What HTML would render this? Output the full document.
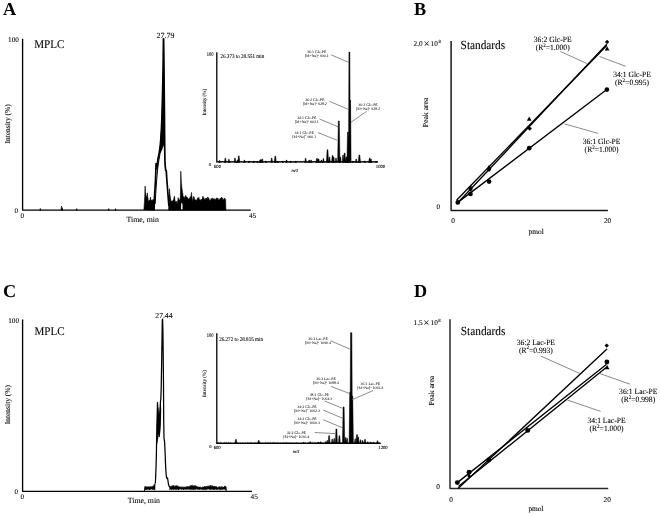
<!DOCTYPE html>
<html><head><meta charset="utf-8"><style>
html,body{margin:0;padding:0;background:#fff;}
body{width:660px;height:516px;overflow:hidden;}
svg{display:block;font-family:"Liberation Serif", serif;will-change:transform;text-rendering:geometricPrecision;}
</style></head><body>
<svg width="660" height="516" viewBox="0 0 660 516">
<rect width="660" height="516" fill="#fff"/>
<path d="M39.8,210.2 L40.3,208.4 L40.8,210.2 Z M61.0,210.2 L61.5,206.0 L62.0,210.2 Z M61.8,210.2 L62.3,207.7 L62.8,210.2 Z M76.3,210.2 L76.8,208.6 L77.3,210.2 Z M108.3,210.2 L108.8,208.6 L109.3,210.2 Z M115.1,210.2 L115.6,208.6 L116.1,210.2 Z" fill="#000" stroke="#000" stroke-width="0.6"/>
<path d="M143.90,209.85 L144.40,202.30 L144.75,195.94 L145.10,185.94 L145.45,191.76 L145.80,194.73 L146.15,196.59 L146.50,198.01 L146.90,195.56 L147.30,192.87 L147.65,196.11 L148.00,198.18 L148.33,200.51 L148.67,201.32 L149.00,200.75 L149.33,201.02 L149.67,200.09 L150.00,199.90 L150.50,197.15 L150.85,199.13 L151.20,200.95 L151.52,200.20 L151.85,200.97 L152.18,200.84 L152.50,199.79 L152.83,200.36 L153.17,199.45 L153.50,200.13 L153.85,199.54 L154.20,199.00 L154.20,210.20 Z" fill="#000" stroke="#000" stroke-width="0.6" stroke-linejoin="round"/>
<path d="M154.00,210.20 L154.20,203.00 L154.60,195.00 L155.10,187.00 L155.50,180.00 L155.80,172.00 L156.10,163.50 L156.60,168.50 L157.20,166.00 L157.80,160.00 L158.60,156.00 L159.40,152.00 L160.20,146.00 L160.90,138.00 L161.50,128.00 L162.00,115.00 L162.40,100.00 L162.85,80.00 L163.20,60.00 L163.45,38.80 L163.60,38.80 L163.85,55.00 L164.10,80.00 L164.40,110.00 L164.60,135.00 L164.75,150.00 L164.90,160.00 L165.20,166.00 L165.70,170.50 L166.30,171.00 L166.60,176.00 L167.00,182.00 L167.50,188.00 L168.00,195.00 L168.50,201.00 L168.90,206.00" fill="none" stroke="#000" stroke-width="1.7" stroke-linejoin="round"/>
<path d="M155.20,204.00 L155.60,196.00 L156.10,188.00 L156.60,181.00 L157.20,174.00 L158.00,166.00 L158.90,160.00 L159.80,155.00 L160.60,148.00" fill="none" stroke="#000" stroke-width="1.0" stroke-linejoin="round"/>
<path d="M163.20,60.00 L162.90,75.00 L162.50,90.00 L162.20,100.00 L161.70,112.00 L161.10,128.00 L160.40,140.00 L159.60,149.00 L159.30,153.00 L160.60,153.00 L162.50,149.00 L163.30,145.00 L164.00,148.00 L164.60,146.00 L164.70,130.00 L164.50,100.00 L164.20,80.00 L163.90,60.00 Z" fill="#000"/>
<path d="M168.60,210.20 L168.80,200.16 L169.15,195.52 L169.50,188.74 L169.85,193.88 L170.20,196.13 L170.60,199.12 L170.93,200.66 L171.27,201.03 L171.60,200.86 L171.90,201.50 L172.20,201.17 L172.50,200.91 L172.83,200.81 L173.17,200.26 L173.50,199.40 L173.83,198.39 L174.17,197.15 L174.50,196.05 L174.90,199.90 L175.30,201.46 L175.70,201.79 L176.10,202.63 L176.50,201.24 L176.85,203.17 L177.20,203.51 L177.53,201.74 L177.87,199.98 L178.20,197.58 L178.52,199.82 L178.85,199.53 L179.18,200.17 L179.50,200.25 L179.90,199.25 L180.30,198.00 L180.50,190.00 L180.80,171.20 L181.30,182.00 L182.00,189.00 L182.50,192.00 L183.10,196.00 L183.10,196.39 L183.45,197.20 L183.80,196.66 L184.15,197.48 L184.50,197.68 L184.80,198.31 L185.10,196.55 L185.40,197.46 L185.70,195.32 L186.00,196.40 L186.33,197.10 L186.67,197.12 L187.00,196.84 L187.33,197.59 L187.67,197.84 L188.00,199.34 L188.30,199.04 L188.60,198.92 L188.90,199.27 L189.20,198.23 L189.50,198.12 L189.83,199.56 L190.17,196.93 L190.50,196.50 L190.83,196.36 L191.17,195.21 L191.50,192.36 L191.83,196.19 L192.17,197.83 L192.50,200.77 L192.90,200.24 L193.30,198.59 L193.70,196.36 L194.02,198.01 L194.35,197.62 L194.68,199.86 L195.00,199.92 L195.40,199.91 L195.80,199.69 L196.20,200.46 L196.52,200.75 L196.85,199.72 L197.18,200.07 L197.50,198.03 L197.85,198.21 L198.20,197.74 L198.55,198.19 L198.90,197.43 L199.27,199.72 L199.63,199.48 L200.00,200.03 L200.30,200.79 L200.60,199.95 L200.90,199.49 L201.20,200.00 L201.50,199.56 L201.80,200.00 L202.10,198.80 L202.40,198.43 L202.70,197.20 L203.00,196.21 L203.33,198.68 L203.67,197.46 L204.00,198.13 L204.33,199.67 L204.67,198.99 L205.00,199.68 L205.30,199.78 L205.60,198.40 L205.90,199.34 L206.20,198.00 L206.50,198.23 L206.80,198.34 L207.10,198.85 L207.40,198.88 L207.70,197.00 L208.00,197.00 L208.33,198.56 L208.67,198.23 L209.00,198.25 L209.32,200.61 L209.65,200.49 L209.98,200.50 L210.30,199.97 L210.70,199.80 L211.10,198.54 L211.50,198.69 L211.80,199.37 L212.10,199.56 L212.40,199.11 L212.70,197.85 L213.00,200.27 L213.30,198.76 L213.60,198.88 L213.90,198.69 L214.27,198.78 L214.63,198.92 L215.00,199.96 L215.30,200.28 L215.60,199.19 L215.90,199.12 L216.20,198.33 L216.50,197.83 L216.80,199.74 L217.10,198.57 L217.40,199.75 L217.70,198.16 L218.00,197.95 L218.30,199.90 L218.60,199.67 L218.90,200.16 L219.20,199.51 L219.50,199.64 L219.85,200.02 L220.20,198.12 L220.55,199.33 L220.90,198.04 L221.25,198.21 L221.60,197.06 L221.95,198.57 L222.30,197.77 L222.65,199.48 L223.00,199.41 L223.30,199.16 L223.60,199.25 L223.90,199.90 L224.20,199.17 L224.50,197.93 L224.87,199.15 L225.23,198.85 L225.60,199.39 L225.90,210.20 L225.90,210.20 Z" fill="#000" stroke="#000" stroke-width="0.6" stroke-linejoin="round"/>
<path d="M181.0,209.6 L181.2,203 L182.4,203.5 L182.6,209.6 Z" fill="#fff"/>
<text x="3.0" y="15.2" font-size="18.2" text-anchor="start" font-weight="bold" fill="#000" >A</text>
<path d="M22.6,38.8 L22.6,210.1 L250.7,210.1" fill="none" stroke="#000" stroke-width="1.35" stroke-linejoin="round"/>
<text x="18.9" y="42.2" font-size="7.2" text-anchor="end" fill="#000" stroke="#000" stroke-width="0.08" >100</text>
<text x="18.2" y="212.7" font-size="7.2" text-anchor="end" fill="#000" stroke="#000" stroke-width="0.08" >0</text>
<text x="22.3" y="217.7" font-size="7.2" text-anchor="middle" fill="#000" stroke="#000" stroke-width="0.08" >0</text>
<text x="252.6" y="218.1" font-size="7.2" text-anchor="middle" fill="#000" stroke="#000" stroke-width="0.08" >45</text>
<text x="142.7" y="222.3" font-size="7.8" text-anchor="middle" fill="#000" stroke="#000" stroke-width="0.08" >Time, min</text>
<text transform="translate(34.2,48.0) scale(1,1.07)" x="0" y="0" font-size="11.1" text-anchor="start" fill="#000" stroke="#000" stroke-width="0.08" >MPLC</text>
<text x="165.5" y="37.8" font-size="7.9" text-anchor="middle" fill="#000" stroke="#000" stroke-width="0.08" >27.79</text>
<text transform="translate(10.3,123.9) scale(1.0,1) rotate(-90)" font-size="7.5" text-anchor="middle" fill="#000" stroke="#000" stroke-width="0.08">Intensity (%)</text>
<path d="M216.8,52.2 L216.8,161.9 L378,161.9" fill="none" stroke="#000" stroke-width="1.3" stroke-linejoin="round"/>
<text transform="translate(213.4,55.8) scale(1,1.2)" x="0" y="0" font-size="4.5" text-anchor="end" fill="#000" stroke="#000" stroke-width="0.08" >100</text>
<text transform="translate(220.5,57.8) scale(1,1.12)" x="0" y="0" font-size="5.1" text-anchor="start" fill="#000" stroke="#000" stroke-width="0.08" >26.373 to 28.551 min</text>
<text x="211.0" y="166.0" font-size="4.5" text-anchor="end" fill="#000" stroke="#000" stroke-width="0.08" >0</text>
<text x="217.5" y="168.0" font-size="4.7" text-anchor="middle" fill="#000" stroke="#000" stroke-width="0.08" >600</text>
<text x="380.5" y="167.7" font-size="4.7" text-anchor="middle" fill="#000" stroke="#000" stroke-width="0.08" >1000</text>
<text x="294.7" y="172.0" font-size="4.7" text-anchor="middle" fill="#000" stroke="#000" stroke-width="0.08" font-style="italic">m/z</text>
<text transform="translate(206.0,102.1) scale(1.0,1) rotate(-90)" font-size="5.1" text-anchor="middle" fill="#000" stroke="#000" stroke-width="0.08">Intensity (%)</text>
<path d="M218.70,162.5 L219.25,160.60 L219.75,160.60 L220.30,162.5 Z M224.50,162.5 L225.05,158.00 L225.55,158.00 L226.10,162.5 Z M228.10,162.5 L228.65,159.30 L229.15,159.30 L229.70,162.5 Z M234.20,162.5 L234.75,158.00 L235.25,158.00 L235.80,162.5 Z M236.70,162.5 L237.25,160.00 L237.75,160.00 L238.30,162.5 Z M237.80,162.5 L238.45,155.90 L239.15,155.90 L239.80,162.5 Z M243.60,162.5 L244.15,160.00 L244.65,160.00 L245.20,162.5 Z M248.30,162.5 L248.85,161.00 L249.35,161.00 L249.90,162.5 Z M252.90,162.5 L253.45,161.00 L253.95,161.00 L254.50,162.5 Z M256.70,162.5 L257.25,161.50 L257.75,161.50 L258.30,162.5 Z M259.25,162.5 L259.90,159.80 L261.10,159.80 L261.75,162.5 Z M261.20,162.5 L261.80,159.10 L262.60,159.10 L263.20,162.5 Z M265.10,162.5 L265.65,161.00 L266.15,161.00 L266.70,162.5 Z M270.90,162.5 L271.45,158.00 L271.95,158.00 L272.50,162.5 Z M274.30,162.5 L274.95,156.10 L275.65,156.10 L276.30,162.5 Z M277.30,162.5 L277.85,161.00 L278.35,161.00 L278.90,162.5 Z M281.90,162.5 L282.45,161.00 L282.95,161.00 L283.50,162.5 Z M285.70,162.5 L286.25,160.00 L286.75,160.00 L287.30,162.5 Z M289.60,162.5 L290.15,161.00 L290.65,161.00 L291.20,162.5 Z M294.80,162.5 L295.35,161.00 L295.85,161.00 L296.40,162.5 Z M304.80,162.5 L305.35,158.20 L305.85,158.20 L306.40,162.5 Z M308.40,162.5 L308.95,160.00 L309.45,160.00 L310.00,162.5 Z M310.30,162.5 L310.85,160.00 L311.35,160.00 L311.90,162.5 Z M315.80,162.5 L316.50,158.50 L317.50,158.50 L318.20,162.5 Z M317.50,162.5 L318.10,159.00 L318.90,159.00 L319.50,162.5 Z M320.60,162.5 L321.15,160.00 L321.65,160.00 L322.20,162.5 Z M322.60,162.5 L323.15,158.50 L323.65,158.50 L324.20,162.5 Z M326.40,162.5 L327.10,149.80 L327.90,149.80 L328.60,162.5 Z M328.70,162.5 L329.25,157.00 L329.75,157.00 L330.30,162.5 Z M331.60,162.5 L332.20,155.60 L333.00,155.60 L333.60,162.5 Z M332.90,162.5 L333.45,157.00 L333.95,157.00 L334.50,162.5 Z M335.20,162.5 L335.75,158.00 L336.25,158.00 L336.80,162.5 Z M337.65,162.5 L338.30,121.00 L339.30,121.00 L339.95,162.5 Z M339.60,162.5 L340.15,157.00 L340.65,157.00 L341.20,162.5 Z M342.20,162.5 L342.75,155.00 L343.25,155.00 L343.80,162.5 Z M343.60,162.5 L344.20,153.00 L345.00,153.00 L345.60,162.5 Z M345.50,162.5 L346.00,157.00 L347.00,157.00 L347.50,162.5 Z M346.90,162.5 L347.50,132.00 L348.30,132.00 L348.90,162.5 Z M348.50,162.5 L348.95,52.00 L349.85,52.00 L350.30,162.5 Z M349.30,162.5 L349.85,100.00 L350.55,100.00 L351.10,162.5 Z M352.20,162.5 L352.75,161.00 L353.25,161.00 L353.80,162.5 Z M355.40,162.5 L355.95,159.00 L356.45,159.00 L357.00,162.5 Z M358.30,162.5 L359.00,155.00 L359.80,155.00 L360.50,162.5 Z M363.80,162.5 L364.35,161.00 L364.85,161.00 L365.40,162.5 Z M368.70,162.5 L369.30,158.20 L370.10,158.20 L370.70,162.5 Z M370.20,162.5 L370.75,159.00 L371.25,159.00 L371.80,162.5 Z M375.40,162.5 L375.95,161.50 L376.45,161.50 L377.00,162.5 Z" fill="#000" stroke="#000" stroke-width="0.5" stroke-linejoin="round"/>
<path d="M216.70,162.08 L217.30,161.61 L217.90,161.31 L218.50,161.38 L219.10,161.77 L219.70,161.58 L220.30,161.42 L220.90,162.21 L221.50,161.57 L222.10,161.30 L222.70,161.44 L223.30,161.47 L223.90,161.77 L224.50,162.10 L225.10,161.43 L225.70,161.93 L226.30,161.42 L226.90,161.23 L227.50,161.86 L228.10,161.86 L228.70,161.26 L229.30,161.50 L229.90,162.11 L230.50,162.16 L231.10,162.13 L231.70,161.30 L232.30,161.41 L232.90,162.14 L233.50,161.39 L234.10,161.22 L234.70,161.58 L235.30,161.91 L235.90,161.70 L236.50,162.16 L237.10,162.28 L237.70,161.23 L238.30,161.59 L238.90,161.72 L239.50,161.27 L240.10,161.82 L240.70,161.34 L241.30,161.39 L241.90,162.07 L242.50,162.02 L243.10,161.98 L243.70,162.04 L244.30,161.65 L244.90,162.01 L245.50,161.84 L246.10,162.16 L246.70,161.30 L247.30,161.91 L247.90,161.80 L248.50,161.66 L249.10,161.31 L249.70,161.84 L250.30,161.29 L250.90,161.75 L251.50,161.71 L252.10,161.72 L252.70,162.28 L253.30,161.82 L253.90,162.10 L254.50,162.30 L255.10,161.42 L255.70,162.11 L256.30,161.78 L256.90,161.50 L257.50,161.69 L258.10,161.94 L258.70,161.73 L259.30,161.69 L259.90,161.44 L260.50,162.18 L261.10,161.68 L261.70,162.03 L262.30,162.00 L262.90,161.45 L263.50,161.74 L264.10,161.68 L264.70,161.46 L265.30,161.30 L265.90,161.81 L266.50,161.63 L267.10,161.74 L267.70,161.74 L268.30,161.54 L268.90,161.80 L269.50,161.71 L270.10,161.77 L270.70,161.26 L271.30,161.53 L271.90,161.34 L272.50,161.26 L273.10,162.01 L273.70,161.68 L274.30,161.26 L274.90,161.38 L275.50,162.15 L276.10,162.17 L276.70,161.81 L277.30,162.22 L277.90,162.04 L278.50,162.22 L279.10,161.56 L279.70,161.44 L280.30,161.31 L280.90,162.13 L281.50,161.51 L282.10,161.57 L282.70,162.14 L283.30,161.33 L283.90,161.24 L284.50,162.06 L285.10,161.25 L285.70,161.86 L286.30,161.76 L286.90,161.21 L287.50,161.38 L288.10,162.12 L288.70,161.83 L289.30,161.73 L289.90,161.93 L290.50,162.08 L291.10,161.95 L291.70,161.51 L292.30,162.28 L292.90,161.69 L293.50,161.82 L294.10,162.28 L294.70,161.94 L295.30,161.61 L295.90,161.74 L296.50,162.23 L297.10,161.22 L297.70,161.43 L298.30,161.23 L298.90,162.18 L299.50,162.01 L300.10,162.26 L300.70,161.44 L301.30,162.00 L301.90,162.16 L302.50,161.84 L303.10,161.30 L303.70,161.40 L304.30,162.02 L304.90,162.14 L305.50,161.29 L306.10,161.67 L306.70,161.53 L307.30,162.20 L307.90,162.24 L308.50,161.54 L309.10,161.83 L309.70,162.22 L310.30,161.27 L310.90,161.60 L311.50,161.42 L312.10,162.21 L312.70,161.36 L313.30,162.23 L313.90,161.35 L314.50,161.80 L315.10,161.93 L315.70,161.69 L316.30,161.28 L316.90,162.01 L317.50,162.16 L318.10,161.72 L318.70,162.04 L319.30,162.18 L319.90,162.12 L320.50,162.24 L321.10,162.08 L321.70,161.96 L322.30,161.96 L322.90,161.46 L323.50,161.98 L324.10,161.75 L324.70,162.10 L325.30,161.92 L325.90,162.28 L326.50,162.02 L327.10,162.28 L327.70,161.49 L328.30,161.69 L328.90,162.09 L329.50,161.78 L330.10,161.27 L330.70,162.18 L331.30,161.40 L331.90,161.82 L332.50,161.76 L333.10,161.38 L333.70,161.87 L334.30,161.74 L334.90,161.54 L335.50,161.22 L336.10,161.92 L336.70,161.38 L337.30,161.52 L337.90,161.60 L338.50,161.85 L339.10,161.92 L339.70,162.24 L340.30,162.16 L340.90,162.22 L341.50,161.49 L342.10,162.02 L342.70,162.12 L343.30,162.21 L343.90,161.37 L344.50,161.34 L345.10,161.56 L345.70,161.99 L346.30,162.03 L346.90,161.98 L347.50,161.79 L348.10,162.13 L348.70,161.81 L349.30,162.01 L349.90,161.24 L350.50,161.23 L351.10,161.70 L351.70,162.03 L352.30,161.24 L352.90,161.96 L353.50,161.91 L354.10,162.30 L354.70,161.88 L355.30,161.78 L355.90,161.75 L356.50,162.08 L357.10,161.74 L357.70,162.29 L358.30,162.01 L358.90,162.20 L359.50,161.86 L360.10,162.25 L360.70,162.28 L361.30,161.97 L361.90,162.04 L362.50,161.66 L363.10,161.72 L363.70,161.47 L364.30,161.58 L364.90,161.51 L365.50,161.33 L366.10,161.87 L366.70,161.94 L367.30,161.22 L367.90,162.14 L368.50,161.50 L369.10,161.59 L369.70,162.25 L370.30,161.38 L370.90,161.32 L371.50,161.61 L372.10,161.49 L372.70,161.41 L373.30,162.15 L373.90,161.72 L374.50,161.75 L375.10,161.38 L375.70,161.41 L376.30,161.39 L376.90,161.66 L377.50,161.32" fill="none" stroke="#000" stroke-width="0.6"/>
<line x1="331.2" y1="54.8" x2="348.9" y2="62.5" stroke="#6e6e6e" stroke-width="0.8"/>
<line x1="329.7" y1="101.4" x2="348.3" y2="109.4" stroke="#6e6e6e" stroke-width="0.8"/>
<line x1="366.5" y1="111.4" x2="351" y2="122.3" stroke="#6e6e6e" stroke-width="0.8"/>
<line x1="319.5" y1="119" x2="338.2" y2="126.8" stroke="#6e6e6e" stroke-width="0.8"/>
<line x1="318" y1="132.6" x2="337" y2="140.2" stroke="#6e6e6e" stroke-width="0.8"/>
<text x="316.7" y="52.9" font-size="3.9" text-anchor="middle" fill="#000" stroke="#000" stroke-width="0.02" >36:1 Glc-PE</text>
<text x="316.7" y="57.0" font-size="3.9" text-anchor="middle" fill="#000" stroke="#000" stroke-width="0.02" >[M+Na]<tspan font-size="2.6" dy="-1.2">+</tspan><tspan dy="1.2"> 930.1</tspan></text>
<text x="314.8" y="101.2" font-size="3.9" text-anchor="middle" fill="#000" stroke="#000" stroke-width="0.02" >36:2 Glc-PE</text>
<text x="314.8" y="105.3" font-size="3.9" text-anchor="middle" fill="#000" stroke="#000" stroke-width="0.02" >[M+Na]<tspan font-size="2.6" dy="-1.2">+</tspan><tspan dy="1.2"> 928.2</tspan></text>
<text x="368.0" y="105.8" font-size="3.9" text-anchor="middle" fill="#000" stroke="#000" stroke-width="0.02" >36:2 Glc-PE</text>
<text x="368.0" y="109.9" font-size="3.9" text-anchor="middle" fill="#000" stroke="#000" stroke-width="0.02" >[M+Na]<tspan font-size="2.6" dy="-1.2">+</tspan><tspan dy="1.2"> 928.2</tspan></text>
<text x="306.8" y="119.1" font-size="3.9" text-anchor="middle" fill="#000" stroke="#000" stroke-width="0.02" >34:1 Glc-PE</text>
<text x="306.8" y="123.2" font-size="3.9" text-anchor="middle" fill="#000" stroke="#000" stroke-width="0.02" >[M+Na]<tspan font-size="2.6" dy="-1.2">+</tspan><tspan dy="1.2"> 902.1</tspan></text>
<text x="304.2" y="133.5" font-size="3.9" text-anchor="middle" fill="#000" stroke="#000" stroke-width="0.02" >34:1 Glc-PE</text>
<text x="304.2" y="137.6" font-size="3.9" text-anchor="middle" fill="#000" stroke="#000" stroke-width="0.02" >[M+Na]<tspan font-size="2.6" dy="-1.2">+</tspan><tspan dy="1.2"> 900.1</tspan></text>
<path d="M144.60,486.76 L144.95,486.80 L145.30,486.07 L145.65,486.65 L146.00,486.60 L146.35,487.26 L146.70,486.52 L147.05,487.46 L147.40,486.53 L147.75,487.30 L148.10,486.83 L148.45,486.62 L148.80,486.82 L149.15,487.40 L149.50,486.52 L149.85,487.09 L150.20,486.87 L150.55,487.28 L150.90,486.09 L151.25,487.40 L151.60,486.62 L151.95,486.60 L152.30,486.48 L152.65,486.74 L153.00,485.65 L153.35,485.86 L153.70,485.50 L154.05,485.83 L154.40,483.76 L154.75,485.01 L155.10,483.68 L155.10,489.32 L154.75,490.16 L154.40,489.55 L154.05,490.12 L153.70,489.24 L153.35,489.14 L153.00,489.56 L152.65,489.35 L152.30,489.83 L151.95,489.32 L151.60,489.01 L151.25,489.37 L150.90,489.30 L150.55,489.09 L150.20,489.74 L149.85,489.82 L149.50,489.46 L149.15,490.17 L148.80,489.25 L148.45,489.32 L148.10,489.30 L147.75,489.08 L147.40,489.64 L147.05,489.90 L146.70,489.00 L146.35,489.82 L146.00,489.75 L145.65,490.00 L145.30,489.43 L144.95,489.04 L144.60,489.83 Z" fill="#000" stroke="#000" stroke-width="0.4"/>
<path d="M144.3,491.4 L144.6,489.6 L145.2,487.2" fill="none" stroke="#000" stroke-width="0.9"/>
<path d="M155.30,483.50 L155.60,478.00 L156.00,468.00 L156.30,458.00 L156.50,448.00 L156.60,440.00 L156.90,425.00 L157.30,410.00 L157.50,402.50 L157.90,409.00 L158.30,420.00 L158.80,432.00 L159.20,436.50 L159.60,428.00 L160.00,412.00 L160.50,401.00 L160.80,399.50 L161.20,388.00 L161.60,365.00 L162.00,340.00 L162.30,320.00 L162.60,319.20 L162.90,330.00 L163.20,355.00 L163.50,385.00 L163.70,420.00 L164.00,438.00 L164.60,442.00 L164.90,448.00 L165.30,458.00 L165.70,468.00 L166.10,474.00 L166.50,477.50 L167.00,478.50 L167.50,477.80 L168.00,481.00 L168.50,484.50 L169.20,486.30 L170.20,487.00" fill="none" stroke="#000" stroke-width="1.25" stroke-linejoin="round"/>
<path d="M156.9,425 L157.5,404.5 L158.3,408 L159.0,415 L159.6,410 L160.5,401 L160.8,399.5 L161.2,410 L160.8,425 L160.2,433 L159.5,437 L158.8,433 L158.0,440 L157.2,445 Z" fill="#000"/>
<path d="M169.60,486.16 L169.95,486.70 L170.30,485.93 L170.65,487.42 L171.00,486.64 L171.35,487.20 L171.70,485.76 L172.05,486.60 L172.40,485.34 L172.75,486.44 L173.10,485.41 L173.45,486.19 L173.80,485.16 L174.15,486.74 L174.50,486.28 L174.85,486.79 L175.20,485.57 L175.55,486.91 L175.90,485.58 L176.25,486.11 L176.60,485.32 L176.95,486.19 L177.30,485.59 L177.65,486.56 L178.00,485.87 L178.35,487.13 L178.70,486.33 L179.05,487.33 L179.40,486.58 L179.75,487.24 L180.10,486.77 L180.45,486.86 L180.80,487.13 L181.15,487.21 L181.50,486.46 L181.85,487.91 L182.20,487.01 L182.55,487.51 L182.90,486.47 L183.25,487.15 L183.60,486.92 L183.95,487.99 L184.30,486.86 L184.65,487.14 L185.00,486.70 L185.35,487.14 L185.70,486.92 L186.05,487.66 L186.40,486.62 L186.75,487.12 L187.10,486.06 L187.45,487.68 L187.80,486.48 L188.15,487.41 L188.50,486.04 L188.85,486.72 L189.20,486.76 L189.55,487.13 L189.90,485.46 L190.25,486.43 L190.60,485.44 L190.95,485.73 L191.30,485.64 L191.65,486.33 L192.00,484.67 L192.35,485.76 L192.70,485.69 L193.05,486.49 L193.40,485.68 L193.75,485.80 L194.10,485.44 L194.45,486.56 L194.80,485.38 L195.15,486.64 L195.50,485.46 L195.85,486.62 L196.20,485.93 L196.55,486.84 L196.90,485.96 L197.25,487.41 L197.60,486.84 L197.95,486.70 L198.30,487.08 L198.65,486.93 L199.00,486.63 L199.35,487.19 L199.70,486.96 L200.05,487.07 L200.40,486.64 L200.75,487.68 L201.10,487.28 L201.45,487.51 L201.80,487.52 L202.15,487.89 L202.50,486.57 L202.85,487.25 L203.20,486.87 L203.55,487.10 L203.90,487.01 L204.25,486.92 L204.60,486.33 L204.95,486.80 L205.30,486.01 L205.65,487.55 L206.00,486.72 L206.35,487.44 L206.70,485.88 L207.05,487.08 L207.40,486.34 L207.75,486.50 L208.10,485.59 L208.45,486.27 L208.80,486.46 L209.15,486.97 L209.50,485.62 L209.85,486.73 L210.20,485.18 L210.55,486.17 L210.90,485.34 L211.25,486.78 L211.60,485.63 L211.95,486.66 L212.30,485.21 L212.65,486.91 L213.00,486.19 L213.35,486.33 L213.70,486.57 L214.05,486.36 L214.40,485.89 L214.75,486.19 L215.10,486.79 L215.45,487.44 L215.80,486.07 L216.15,487.60 L216.50,486.41 L216.85,487.12 L217.20,487.22 L217.55,487.68 L217.90,487.19 L218.25,487.54 L218.60,486.64 L218.95,487.81 L219.30,486.53 L219.65,487.22 L220.00,486.34 L220.35,487.30 L220.70,487.39 L221.05,487.19 L221.40,486.34 L221.75,487.64 L222.10,486.43 L222.45,487.43 L222.80,486.96 L223.15,487.36 L223.50,486.95 L223.85,487.11 L224.20,486.67 L224.55,486.59 L224.90,485.79 L225.25,486.83 L225.60,485.95 L225.95,486.61 L225.95,489.08 L225.60,489.99 L225.25,489.19 L224.90,489.86 L224.55,489.09 L224.20,489.04 L223.85,489.25 L223.50,489.15 L223.15,488.95 L222.80,489.82 L222.45,489.61 L222.10,489.30 L221.75,489.34 L221.40,489.40 L221.05,488.90 L220.70,489.99 L220.35,489.98 L220.00,489.46 L219.65,488.88 L219.30,489.70 L218.95,488.89 L218.60,489.23 L218.25,489.19 L217.90,489.73 L217.55,489.69 L217.20,489.02 L216.85,489.39 L216.50,489.10 L216.15,489.94 L215.80,489.37 L215.45,488.83 L215.10,489.56 L214.75,489.71 L214.40,489.13 L214.05,489.66 L213.70,489.54 L213.35,489.13 L213.00,489.88 L212.65,489.11 L212.30,488.88 L211.95,488.85 L211.60,489.77 L211.25,488.84 L210.90,489.24 L210.55,489.90 L210.20,489.37 L209.85,489.32 L209.50,489.79 L209.15,489.05 L208.80,488.95 L208.45,489.22 L208.10,488.80 L207.75,489.20 L207.40,489.25 L207.05,488.84 L206.70,489.92 L206.35,489.20 L206.00,490.00 L205.65,489.86 L205.30,489.27 L204.95,488.86 L204.60,489.97 L204.25,489.27 L203.90,489.94 L203.55,489.30 L203.20,489.02 L202.85,489.94 L202.50,489.71 L202.15,489.08 L201.80,489.17 L201.45,489.05 L201.10,489.69 L200.75,489.04 L200.40,489.30 L200.05,488.84 L199.70,489.91 L199.35,489.11 L199.00,489.61 L198.65,488.83 L198.30,489.65 L197.95,489.10 L197.60,489.37 L197.25,489.57 L196.90,489.35 L196.55,488.81 L196.20,489.07 L195.85,489.50 L195.50,488.88 L195.15,489.64 L194.80,489.10 L194.45,489.16 L194.10,489.90 L193.75,489.74 L193.40,489.46 L193.05,489.72 L192.70,489.67 L192.35,489.62 L192.00,488.99 L191.65,489.10 L191.30,489.83 L190.95,489.91 L190.60,488.80 L190.25,489.37 L189.90,489.65 L189.55,488.83 L189.20,489.82 L188.85,489.34 L188.50,489.10 L188.15,489.06 L187.80,489.56 L187.45,488.95 L187.10,489.13 L186.75,489.21 L186.40,489.43 L186.05,489.30 L185.70,489.86 L185.35,489.11 L185.00,488.91 L184.65,488.91 L184.30,488.97 L183.95,490.00 L183.60,489.06 L183.25,489.89 L182.90,488.99 L182.55,489.27 L182.20,489.16 L181.85,489.11 L181.50,489.69 L181.15,489.21 L180.80,488.95 L180.45,488.86 L180.10,489.57 L179.75,489.34 L179.40,488.86 L179.05,489.46 L178.70,489.90 L178.35,489.77 L178.00,489.95 L177.65,489.03 L177.30,489.12 L176.95,489.92 L176.60,489.80 L176.25,488.86 L175.90,489.31 L175.55,489.51 L175.20,489.27 L174.85,489.15 L174.50,489.66 L174.15,488.94 L173.80,489.70 L173.45,489.81 L173.10,489.21 L172.75,489.16 L172.40,489.39 L172.05,488.83 L171.70,489.88 L171.35,489.64 L171.00,489.41 L170.65,488.96 L170.30,489.43 L169.95,489.50 L169.60,489.93 Z" fill="#000" stroke="#000" stroke-width="0.4"/>
<path d="M226.0,487 L226.3,491.4" fill="none" stroke="#000" stroke-width="0.9"/>
<text x="3.0" y="297.2" font-size="18.2" text-anchor="start" font-weight="bold" fill="#000" >C</text>
<path d="M22.6,319.5 L22.6,491.3 L252,491.3" fill="none" stroke="#000" stroke-width="1.35" stroke-linejoin="round"/>
<text x="19.0" y="322.9" font-size="7.2" text-anchor="end" fill="#000" stroke="#000" stroke-width="0.08" >100</text>
<text x="18.2" y="494.0" font-size="7.2" text-anchor="end" fill="#000" stroke="#000" stroke-width="0.08" >0</text>
<text x="22.3" y="499.4" font-size="7.2" text-anchor="middle" fill="#000" stroke="#000" stroke-width="0.08" >0</text>
<text x="254.2" y="499.1" font-size="7.2" text-anchor="middle" fill="#000" stroke="#000" stroke-width="0.08" >45</text>
<text x="143.9" y="503.3" font-size="7.8" text-anchor="middle" fill="#000" stroke="#000" stroke-width="0.08" >Time, min</text>
<text transform="translate(34.5,334.8) scale(1,1.07)" x="0" y="0" font-size="11.1" text-anchor="start" fill="#000" stroke="#000" stroke-width="0.08" >MPLC</text>
<text x="163.9" y="317.9" font-size="7.6" text-anchor="middle" fill="#000" stroke="#000" stroke-width="0.08" >27.44</text>
<text transform="translate(10.2,404.6) scale(1.0,1) rotate(-90)" font-size="7.5" text-anchor="middle" fill="#000" stroke="#000" stroke-width="0.08">Intensity (%)</text>
<path d="M216.8,333.2 L216.8,443.4 L380.8,443.4" fill="none" stroke="#000" stroke-width="1.3" stroke-linejoin="round"/>
<text transform="translate(213.4,336.9) scale(1,1.2)" x="0" y="0" font-size="4.5" text-anchor="end" fill="#000" stroke="#000" stroke-width="0.08" >100</text>
<text transform="translate(219.2,340.6) scale(1,1.12)" x="0" y="0" font-size="5.1" text-anchor="start" fill="#000" stroke="#000" stroke-width="0.08" >26.272 to 28.815 min</text>
<text x="211.5" y="447.5" font-size="4.5" text-anchor="end" fill="#000" stroke="#000" stroke-width="0.08" >0</text>
<text x="217.2" y="449.2" font-size="4.7" text-anchor="middle" fill="#000" stroke="#000" stroke-width="0.08" >600</text>
<text x="383.0" y="449.4" font-size="4.7" text-anchor="middle" fill="#000" stroke="#000" stroke-width="0.08" >1200</text>
<text x="296.1" y="453.3" font-size="4.7" text-anchor="middle" fill="#000" stroke="#000" stroke-width="0.08" font-style="italic">m/z</text>
<text transform="translate(206.0,383.5) scale(1.0,1) rotate(-90)" font-size="5.1" text-anchor="middle" fill="#000" stroke="#000" stroke-width="0.08">Intensity (%)</text>
<path d="M235.00,443.5 L235.50,439.40 L236.30,439.40 L236.80,443.5 Z M257.80,443.5 L258.30,440.50 L259.10,440.50 L259.60,443.5 Z M309.40,443.5 L309.95,441.70 L310.45,441.70 L311.00,443.5 Z M320.00,443.5 L320.55,441.80 L321.05,441.80 L321.60,443.5 Z M324.60,443.5 L325.15,441.80 L325.65,441.80 L326.20,443.5 Z M328.20,443.5 L328.70,435.70 L329.50,435.70 L330.00,443.5 Z M331.40,443.5 L331.95,439.00 L332.45,439.00 L333.00,443.5 Z M335.40,443.5 L335.95,429.00 L336.85,429.00 L337.40,443.5 Z M338.50,443.5 L339.00,435.70 L339.80,435.70 L340.30,443.5 Z M342.45,443.5 L343.10,406.90 L344.10,406.90 L344.75,443.5 Z M346.30,443.5 L346.85,438.20 L347.35,438.20 L347.90,443.5 Z M349.10,443.5 L349.80,392.00 L350.80,392.00 L351.50,443.5 Z M349.95,443.5 L350.55,332.70 L351.85,332.70 L352.45,443.5 Z M351.00,443.5 L351.70,396.00 L352.70,396.00 L353.40,443.5 Z M356.00,443.5 L356.55,434.70 L357.45,434.70 L358.00,443.5 Z M357.50,443.5 L358.05,437.00 L358.55,437.00 L359.10,443.5 Z M364.10,443.5 L364.60,439.50 L365.40,439.50 L365.90,443.5 Z M370.00,443.5 L370.55,442.00 L371.05,442.00 L371.60,443.5 Z M376.70,443.5 L377.25,440.80 L377.75,440.80 L378.30,443.5 Z M326.40,443.5 L326.95,440.50 L327.45,440.50 L328.00,443.5 Z M333.40,443.5 L333.95,438.50 L334.45,438.50 L335.00,443.5 Z M344.80,443.5 L345.35,437.50 L345.85,437.50 L346.40,443.5 Z M354.40,443.5 L354.95,438.80 L355.45,438.80 L356.00,443.5 Z M359.70,443.5 L360.25,439.80 L360.75,439.80 L361.30,443.5 Z M361.80,443.5 L362.35,440.50 L362.85,440.50 L363.40,443.5 Z M367.00,443.5 L367.55,441.80 L368.05,441.80 L368.60,443.5 Z M372.70,443.5 L373.25,442.20 L373.75,442.20 L374.30,443.5 Z M317.40,443.5 L317.95,442.00 L318.45,442.00 L319.00,443.5 Z M302.70,443.5 L303.25,442.30 L303.75,442.30 L304.30,443.5 Z" fill="#000" stroke="#000" stroke-width="0.5" stroke-linejoin="round"/>
<path d="M217.00,442.41 L217.60,442.58 L218.20,442.21 L218.80,443.19 L219.40,442.78 L220.00,442.40 L220.60,442.38 L221.20,442.29 L221.80,443.26 L222.40,442.98 L223.00,443.17 L223.60,443.09 L224.20,442.23 L224.80,442.66 L225.40,442.28 L226.00,442.89 L226.60,442.35 L227.20,442.81 L227.80,443.01 L228.40,442.44 L229.00,442.26 L229.60,443.18 L230.20,442.64 L230.80,442.62 L231.40,443.06 L232.00,442.89 L232.60,443.14 L233.20,443.08 L233.80,443.02 L234.40,442.64 L235.00,442.58 L235.60,443.08 L236.20,443.29 L236.80,442.94 L237.40,442.55 L238.00,443.10 L238.60,442.96 L239.20,443.08 L239.80,442.43 L240.40,442.70 L241.00,443.23 L241.60,443.19 L242.20,442.87 L242.80,442.69 L243.40,442.60 L244.00,443.20 L244.60,443.12 L245.20,442.54 L245.80,442.85 L246.40,442.99 L247.00,442.96 L247.60,442.25 L248.20,442.96 L248.80,442.68 L249.40,442.91 L250.00,442.84 L250.60,442.35 L251.20,442.20 L251.80,442.90 L252.40,443.08 L253.00,442.50 L253.60,443.08 L254.20,443.29 L254.80,442.31 L255.40,442.83 L256.00,442.40 L256.60,442.85 L257.20,442.33 L257.80,442.79 L258.40,443.12 L259.00,443.28 L259.60,442.69 L260.20,442.60 L260.80,442.30 L261.40,443.20 L262.00,442.62 L262.60,442.89 L263.20,442.75 L263.80,443.14 L264.40,442.99 L265.00,442.73 L265.60,442.28 L266.20,443.18 L266.80,442.76 L267.40,442.41 L268.00,442.24 L268.60,443.08 L269.20,443.16 L269.80,442.26 L270.40,442.23 L271.00,442.77 L271.60,443.24 L272.20,442.28 L272.80,442.87 L273.40,442.31 L274.00,442.62 L274.60,442.39 L275.20,443.12 L275.80,442.44 L276.40,443.06 L277.00,442.86 L277.60,442.37 L278.20,442.39 L278.80,443.10 L279.40,443.06 L280.00,442.86 L280.60,442.73 L281.20,442.88 L281.80,443.16 L282.40,443.03 L283.00,442.50 L283.60,442.31 L284.20,443.25 L284.80,442.68 L285.40,442.47 L286.00,443.26 L286.60,442.38 L287.20,443.17 L287.80,442.64 L288.40,442.69 L289.00,442.61 L289.60,442.96 L290.20,442.84 L290.80,442.66 L291.40,442.83 L292.00,442.58 L292.60,442.81 L293.20,442.82 L293.80,443.27 L294.40,442.62 L295.00,442.76 L295.60,443.04 L296.20,442.46 L296.80,442.44 L297.40,442.80 L298.00,443.10 L298.60,442.78 L299.20,443.18 L299.80,443.16 L300.40,442.83 L301.00,443.20 L301.60,442.81 L302.20,442.74 L302.80,443.26 L303.40,442.60 L304.00,443.21 L304.60,442.49 L305.20,442.44 L305.80,442.74 L306.40,443.24 L307.00,442.75 L307.60,442.88 L308.20,442.25 L308.80,443.15 L309.40,442.36 L310.00,442.20 L310.60,442.49 L311.20,442.40 L311.80,443.09 L312.40,442.22 L313.00,442.76 L313.60,442.25 L314.20,442.29 L314.80,443.12 L315.40,442.43 L316.00,442.28 L316.60,443.23 L317.20,442.91 L317.80,442.47 L318.40,443.13 L319.00,442.31 L319.60,443.00 L320.20,442.40 L320.80,443.14 L321.40,442.75 L322.00,442.29 L322.60,443.07 L323.20,443.01 L323.80,442.74 L324.40,442.95 L325.00,443.26 L325.60,443.10 L326.20,443.12 L326.80,442.27 L327.40,442.55 L328.00,442.32 L328.60,443.11 L329.20,442.44 L329.80,443.17 L330.40,442.72 L331.00,442.60 L331.60,442.90 L332.20,442.34 L332.80,442.69 L333.40,442.66 L334.00,442.33 L334.60,443.18 L335.20,442.21 L335.80,442.61 L336.40,442.87 L337.00,442.42 L337.60,443.01 L338.20,442.21 L338.80,442.66 L339.40,442.90 L340.00,442.46 L340.60,442.81 L341.20,443.11 L341.80,442.48 L342.40,443.25 L343.00,442.40 L343.60,443.02 L344.20,442.60 L344.80,442.22 L345.40,442.66 L346.00,442.57 L346.60,442.96 L347.20,443.30 L347.80,443.26 L348.40,443.14 L349.00,442.62 L349.60,442.82 L350.20,442.74 L350.80,442.31 L351.40,443.15 L352.00,443.05 L352.60,442.58 L353.20,443.28 L353.80,443.30 L354.40,442.91 L355.00,443.18 L355.60,442.91 L356.20,443.05 L356.80,442.66 L357.40,442.65 L358.00,443.08 L358.60,442.61 L359.20,442.78 L359.80,443.15 L360.40,442.27 L361.00,443.03 L361.60,443.14 L362.20,443.19 L362.80,442.60 L363.40,442.34 L364.00,442.44 L364.60,442.86 L365.20,443.01 L365.80,443.29 L366.40,442.59 L367.00,442.68 L367.60,442.91 L368.20,442.59 L368.80,442.81 L369.40,442.27 L370.00,442.49 L370.60,443.03 L371.20,442.31 L371.80,443.25 L372.40,442.72 L373.00,442.85 L373.60,443.04 L374.20,443.24 L374.80,442.44 L375.40,443.29 L376.00,442.69 L376.60,442.26 L377.20,443.14 L377.80,443.08 L378.40,442.63 L379.00,442.74 L379.60,442.59 L380.20,442.41" fill="none" stroke="#000" stroke-width="0.6"/>
<line x1="330.9" y1="340.9" x2="350.6" y2="349.4" stroke="#6e6e6e" stroke-width="0.8"/>
<line x1="330.9" y1="386.4" x2="349.8" y2="393.6" stroke="#6e6e6e" stroke-width="0.8"/>
<line x1="373" y1="390.6" x2="352.1" y2="399.7" stroke="#6e6e6e" stroke-width="0.8"/>
<line x1="324.6" y1="401" x2="342.5" y2="408.3" stroke="#6e6e6e" stroke-width="0.8"/>
<line x1="323.1" y1="410" x2="342" y2="418" stroke="#6e6e6e" stroke-width="0.8"/>
<line x1="323.1" y1="419.7" x2="342" y2="427.6" stroke="#6e6e6e" stroke-width="0.8"/>
<line x1="314.8" y1="432.5" x2="335.1" y2="433.6" stroke="#6e6e6e" stroke-width="0.8"/>
<text x="318.0" y="340.2" font-size="3.9" text-anchor="middle" fill="#000" stroke="#000" stroke-width="0.02" >36:2 Lac-PE</text>
<text x="318.0" y="344.2" font-size="3.9" text-anchor="middle" fill="#000" stroke="#000" stroke-width="0.02" >[M+Na]<tspan font-size="2.6" dy="-1.2">+</tspan><tspan dy="1.2"> 1090.4</tspan></text>
<text x="326.0" y="380.2" font-size="3.9" text-anchor="middle" fill="#000" stroke="#000" stroke-width="0.02" >36:3 Lac-PE</text>
<text x="326.0" y="384.2" font-size="3.9" text-anchor="middle" fill="#000" stroke="#000" stroke-width="0.02" >[M+Na]<tspan font-size="2.6" dy="-1.2">+</tspan><tspan dy="1.2"> 1088.4</tspan></text>
<text x="370.3" y="385.2" font-size="3.9" text-anchor="middle" fill="#000" stroke="#000" stroke-width="0.02" >36:1 Lac-PE</text>
<text x="370.3" y="389.2" font-size="3.9" text-anchor="middle" fill="#000" stroke="#000" stroke-width="0.02" >[M+Na]<tspan font-size="2.6" dy="-1.2">+</tspan><tspan dy="1.2"> 1092.4</tspan></text>
<text x="319.3" y="396.1" font-size="3.9" text-anchor="middle" fill="#000" stroke="#000" stroke-width="0.02" >38:1 Glc-PE</text>
<text x="319.3" y="400.1" font-size="3.9" text-anchor="middle" fill="#000" stroke="#000" stroke-width="0.02" >[M+Na]<tspan font-size="2.6" dy="-1.2">+</tspan><tspan dy="1.2"> 1064.3</tspan></text>
<text x="307.0" y="407.5" font-size="3.9" text-anchor="middle" fill="#000" stroke="#000" stroke-width="0.02" >34:2 Glc-PE</text>
<text x="307.0" y="411.5" font-size="3.9" text-anchor="middle" fill="#000" stroke="#000" stroke-width="0.02" >[M+Na]<tspan font-size="2.6" dy="-1.2">+</tspan><tspan dy="1.2"> 1062.3</tspan></text>
<text x="307.0" y="420.3" font-size="3.9" text-anchor="middle" fill="#000" stroke="#000" stroke-width="0.02" >34:2 Glc-PE</text>
<text x="307.0" y="424.3" font-size="3.9" text-anchor="middle" fill="#000" stroke="#000" stroke-width="0.02" >[M+Na]<tspan font-size="2.6" dy="-1.2">+</tspan><tspan dy="1.2"> 1060.3</tspan></text>
<text x="296.3" y="433.9" font-size="3.9" text-anchor="middle" fill="#000" stroke="#000" stroke-width="0.02" >32:2 Glc-PE</text>
<text x="296.3" y="437.9" font-size="3.9" text-anchor="middle" fill="#000" stroke="#000" stroke-width="0.02" >[M+Na]<tspan font-size="2.6" dy="-1.2">+</tspan><tspan dy="1.2"> 1036.4</tspan></text>
<text x="414.0" y="15.2" font-size="18.2" text-anchor="start" font-weight="bold" fill="#000" >B</text>
<path d="M451.1,40.9 L451.1,210.5 L607.9,210.5" fill="none" stroke="#1a1a1a" stroke-width="1.5" stroke-linejoin="round"/>
<text x="413.6" y="45.6" font-size="7.3" text-anchor="start" fill="#000" stroke="#000" stroke-width="0.08" >2.0<tspan font-size="10.4" dx="0.9" dy="1.2">×</tspan><tspan dx="1.1" dy="-1.2">10</tspan><tspan font-size="4.8" dx="0.5" dy="-2.9">8</tspan></text>
<text transform="translate(460.6,49.0) scale(1,1.1)" x="0" y="0" font-size="11.3" text-anchor="start" fill="#000" stroke="#000" stroke-width="0.08" >Standards</text>
<text x="440.0" y="209.2" font-size="7.2" text-anchor="end" fill="#000" stroke="#000" stroke-width="0.08" >0</text>
<text x="453.1" y="223.0" font-size="7.4" text-anchor="middle" fill="#000" stroke="#000" stroke-width="0.08" >0</text>
<text x="607.6" y="223.0" font-size="7.4" text-anchor="middle" fill="#000" stroke="#000" stroke-width="0.08" >20</text>
<text x="536.2" y="233.6" font-size="7.4" text-anchor="middle" fill="#000" stroke="#000" stroke-width="0.08" >pmol</text>
<text transform="translate(427.6,112.4) scale(1.0,1) rotate(-90)" font-size="7.7" text-anchor="middle" fill="#000" stroke="#000" stroke-width="0.08">Peak area</text>
<line x1="457.8" y1="202.4" x2="606.5" y2="89.8" stroke="#000" stroke-width="1.35" stroke-linecap="round"/>
<line x1="457.0" y1="199.7" x2="606.5" y2="45.8" stroke="#000" stroke-width="1.35" stroke-linecap="round"/>
<line x1="459.2" y1="201.3" x2="606.5" y2="44.35" stroke="#000" stroke-width="1.35" stroke-linecap="round"/>
<circle cx="457.8" cy="202.4" r="2.35" fill="#000"/>
<circle cx="470.5" cy="194.0" r="2.35" fill="#000"/>
<circle cx="489.1" cy="181.6" r="2.35" fill="#000"/>
<circle cx="529.2" cy="148.2" r="2.35" fill="#000"/>
<circle cx="606.9" cy="89.6" r="2.35" fill="#000"/>
<path d="M470.50,187.30 L472.70,189.50 L470.50,191.70 L468.30,189.50 Z" fill="#000"/>
<path d="M489.10,167.60 L491.30,169.80 L489.10,172.00 L486.90,169.80 Z" fill="#000"/>
<path d="M529.70,126.40 L531.90,128.60 L529.70,130.80 L527.50,128.60 Z" fill="#000"/>
<path d="M607.10,39.70 L609.30,41.90 L607.10,44.10 L604.90,41.90 Z" fill="#000"/>
<path d="M470.50,184.50 L472.88,188.75 L468.12,188.75 Z" fill="#000"/>
<path d="M489.10,164.70 L491.48,168.95 L486.73,168.95 Z" fill="#000"/>
<path d="M529.20,116.40 L531.58,120.65 L526.83,120.65 Z" fill="#000"/>
<path d="M607.10,46.20 L609.48,50.45 L604.73,50.45 Z" fill="#000"/>
<line x1="560.3" y1="51.4" x2="586.9" y2="63.5" stroke="#8a8a8a" stroke-width="1.0"/>
<line x1="599.6" y1="56.5" x2="625.7" y2="66.3" stroke="#8a8a8a" stroke-width="1.0"/>
<line x1="564.4" y1="123.9" x2="598.2" y2="133.4" stroke="#8a8a8a" stroke-width="1.0"/>
<text transform="translate(552.7,42.1) scale(1,1.06)" x="0" y="0" font-size="7.6" text-anchor="middle" fill="#000" stroke="#000" stroke-width="0.08" >36:2 Glc-PE</text>
<text transform="translate(552.7,50.1) scale(1,1.06)" x="0" y="0" font-size="7.6" text-anchor="middle" fill="#000" stroke="#000" stroke-width="0.08" >(R<tspan font-size="5.0" dy="-3.0">2</tspan><tspan dy="3.0">=1.000)</tspan></text>
<text transform="translate(632.0,77.1) scale(1,1.06)" x="0" y="0" font-size="7.6" text-anchor="middle" fill="#000" stroke="#000" stroke-width="0.08" >34:1 Glc-PE</text>
<text transform="translate(632.0,85.1) scale(1,1.06)" x="0" y="0" font-size="7.6" text-anchor="middle" fill="#000" stroke="#000" stroke-width="0.08" >(R<tspan font-size="5.0" dy="-3.0">2</tspan><tspan dy="3.0">=0.995)</tspan></text>
<text transform="translate(601.6,144.4) scale(1,1.06)" x="0" y="0" font-size="7.6" text-anchor="middle" fill="#000" stroke="#000" stroke-width="0.08" >36:1 Glc-PE</text>
<text transform="translate(601.6,152.4) scale(1,1.06)" x="0" y="0" font-size="7.6" text-anchor="middle" fill="#000" stroke="#000" stroke-width="0.08" >(R<tspan font-size="5.0" dy="-3.0">2</tspan><tspan dy="3.0">=1.000)</tspan></text>
<text x="414.0" y="297.2" font-size="18.2" text-anchor="start" font-weight="bold" fill="#000" >D</text>
<path d="M450.0,319.2 L450.0,488.6 L608.2,488.6" fill="none" stroke="#2a2a2a" stroke-width="1.5" stroke-linejoin="round"/>
<text x="413.5" y="325.2" font-size="7.3" text-anchor="start" fill="#000" stroke="#000" stroke-width="0.08" >1.5<tspan font-size="10.4" dx="0.9" dy="1.2">×</tspan><tspan dx="1.1" dy="-1.2">10</tspan><tspan font-size="4.8" dx="0.5" dy="-2.9">8</tspan></text>
<text transform="translate(460.8,334.9) scale(1,1.1)" x="0" y="0" font-size="11.3" text-anchor="start" fill="#000" stroke="#000" stroke-width="0.08" >Standards</text>
<text x="438.0" y="488.8" font-size="7.4" text-anchor="middle" fill="#000" stroke="#000" stroke-width="0.08" >0</text>
<text x="451.2" y="501.8" font-size="7.4" text-anchor="middle" fill="#000" stroke="#000" stroke-width="0.08" >0</text>
<text x="607.3" y="501.8" font-size="7.4" text-anchor="middle" fill="#000" stroke="#000" stroke-width="0.08" >20</text>
<text x="536.0" y="510.6" font-size="7.4" text-anchor="middle" fill="#000" stroke="#000" stroke-width="0.08" >pmol</text>
<text transform="translate(434.0,390.6) scale(1.0,1) rotate(-90)" font-size="7.7" text-anchor="middle" fill="#000" stroke="#000" stroke-width="0.08">Peak area</text>
<line x1="458.3" y1="488.3" x2="606.7" y2="349.2" stroke="#000" stroke-width="1.35" stroke-linecap="round"/>
<line x1="457.3" y1="482.6" x2="606.0" y2="364.7" stroke="#000" stroke-width="1.35" stroke-linecap="round"/>
<line x1="459.0" y1="486.0" x2="606.5" y2="367.3" stroke="#000" stroke-width="1.35" stroke-linecap="round"/>
<circle cx="457.3" cy="482.6" r="2.45" fill="#000"/>
<circle cx="469.1" cy="472.2" r="2.45" fill="#000"/>
<circle cx="488.8" cy="460" r="2.45" fill="#000"/>
<circle cx="527.7" cy="430.4" r="2.45" fill="#000"/>
<circle cx="606.9" cy="362.0" r="2.45" fill="#000"/>
<path d="M606.70,343.40 L608.90,345.60 L606.70,347.80 L604.50,345.60 Z" fill="#000"/>
<path d="M469.10,474.10 L471.00,476.00 L469.10,477.90 L467.20,476.00 Z" fill="#000"/>
<path d="M607.10,365.00 L609.48,369.25 L604.73,369.25 Z" fill="#000"/>
<line x1="540.7" y1="356" x2="580" y2="373.6" stroke="#8a8a8a" stroke-width="1.0"/>
<line x1="600" y1="373.6" x2="630" y2="384.2" stroke="#8a8a8a" stroke-width="1.0"/>
<line x1="567.3" y1="400" x2="600.6" y2="411.4" stroke="#8a8a8a" stroke-width="1.0"/>
<text transform="translate(535.9,344.6) scale(1,1.06)" x="0" y="0" font-size="7.6" text-anchor="middle" fill="#000" stroke="#000" stroke-width="0.08" >36:2 Lac-PE</text>
<text transform="translate(535.9,352.6) scale(1,1.06)" x="0" y="0" font-size="7.6" text-anchor="middle" fill="#000" stroke="#000" stroke-width="0.08" >(R<tspan font-size="5.0" dy="-3.0">2</tspan><tspan dy="3.0">=0.993)</tspan></text>
<text transform="translate(638.2,394.3) scale(1,1.06)" x="0" y="0" font-size="7.6" text-anchor="middle" fill="#000" stroke="#000" stroke-width="0.08" >36:1 Lac-PE</text>
<text transform="translate(638.2,402.3) scale(1,1.06)" x="0" y="0" font-size="7.6" text-anchor="middle" fill="#000" stroke="#000" stroke-width="0.08" >(R<tspan font-size="5.0" dy="-3.0">2</tspan><tspan dy="3.0">=0.998)</tspan></text>
<text transform="translate(606.5,422.7) scale(1,1.06)" x="0" y="0" font-size="7.6" text-anchor="middle" fill="#000" stroke="#000" stroke-width="0.08" >34:1 Lac-PE</text>
<text transform="translate(606.5,430.7) scale(1,1.06)" x="0" y="0" font-size="7.6" text-anchor="middle" fill="#000" stroke="#000" stroke-width="0.08" >(R<tspan font-size="5.0" dy="-3.0">2</tspan><tspan dy="3.0">=1.000)</tspan></text>
</svg>
</body></html>
